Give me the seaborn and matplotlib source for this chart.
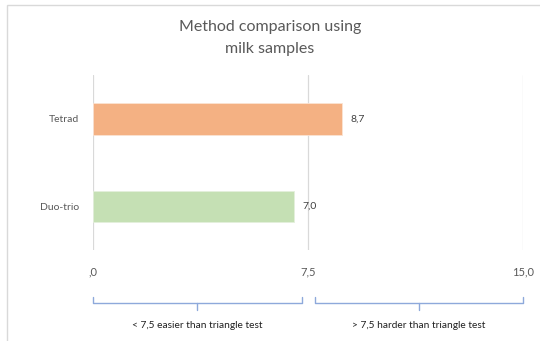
import matplotlib
matplotlib.use("Agg")
import matplotlib.pyplot as plt
import seaborn as sns
import pandas as pd
from matplotlib.patches import Rectangle

methods = ["Tetrad", "Duo-trio"]
values = [8.7, 7.0]
value_labels = ["8,7", "7,0"]
colors = ["#F4B183", "#C5E0B4"]
x_ticks = [0, 7.5, 15]
x_ticklabels = [",0", "7,5", "15,0"]
title = "Method comparison using\nmilk samples"
brace_texts = ["< 7,5 easier than triangle test", "> 7,5 harder than triangle test"]

sns.set_theme(style="white")
plt.rcParams['font.family'] = ['Lato', 'DejaVu Sans']

df = pd.DataFrame({"method": methods, "value": values})

fig = plt.figure(figsize=(5.4, 3.41), dpi=100)
ax = fig.add_axes([93/540, 1-250/341, 430/540, 175/341])

sns.barplot(data=df, y="method", x="value", hue="method", palette=colors,
            orient="h", width=0.36, ax=ax, legend=False, saturation=1,
            edgecolor="#FBE3D3", linewidth=0.6)
ax.patches[1].set_edgecolor("#E4F0DC")

ax.set_xlim(0, 15)
ax.set_ylim(1.5, -0.5)
ax.set_xticks(x_ticks)
ax.set_xticklabels(x_ticklabels)
ax.set_xlabel("")
ax.set_ylabel("")
for s in ax.spines.values():
    s.set_visible(False)
ax.grid(axis="x", color="#D9D9D9", linewidth=0.9)
ax.set_axisbelow(True)
ax.tick_params(axis="x", length=0, pad=12, labelsize=8, labelcolor="#595959")
ax.tick_params(axis="y", length=0, pad=10, labelsize=7.5, labelcolor="#595959")

for i, (v, lab) in enumerate(zip(values, value_labels)):
    ax.annotate(lab, (v, i), xytext=(6, 0), textcoords="offset points",
                va="center", ha="left", fontsize=7.5, color="#404040")

fig.text(0.5, 1-38/341, title, ha="center", va="center", fontsize=11.5, color="#595959",
         linespacing=1.65)

# braces
tr = ax.get_xaxis_transform()
bc = "#8EA9DB"
for (x0, x1), txt in zip([(0, 7.29), (7.75, 15)], brace_texts):
    ytop, ymid, ybot = -0.269, -0.303, -0.343
    ax.plot([x0, x0, x1, x1], [ytop, ymid, ymid, ytop], transform=tr, color=bc,
            lw=1, clip_on=False, solid_joinstyle="round")
    xm = (x0 + x1) / 2
    ax.plot([xm, xm], [ymid, ybot], transform=tr, color=bc, lw=1, clip_on=False)
    ax.text(xm, -0.434, txt, transform=tr, ha="center", va="center", fontsize=7.3,
            color="#1F1F1F")

# outer frame
fig.patches.append(Rectangle((7/540, -0.1), 1.2, 1-5/341 + 0.1, transform=fig.transFigure,
                             fill=False, edgecolor="#D9D9D9", linewidth=1))

fig.savefig("out.png", dpi=100)
